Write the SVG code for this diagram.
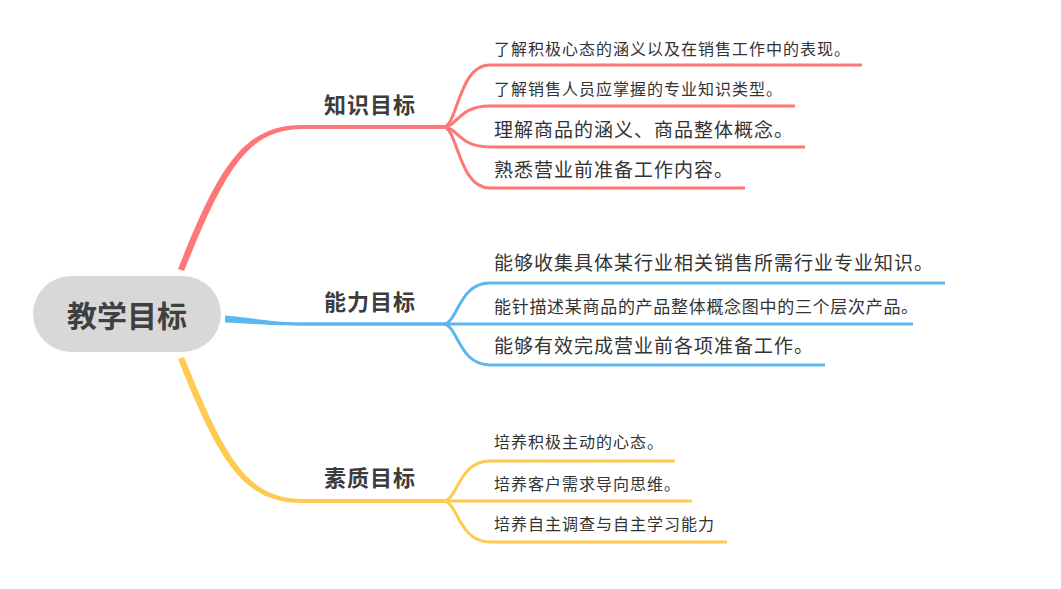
<svg xmlns="http://www.w3.org/2000/svg" width="1061" height="589" viewBox="0 0 1061 589">
<style>
text{font-family:"Noto Sans CJK SC","Microsoft YaHei",sans-serif;fill:#333}
.root{font-size:30px;font-weight:bold;fill:#404040}
.cat{font-size:22px;font-weight:bold;fill:#3c3c3c;letter-spacing:1px}
.s{font-size:16px;letter-spacing:1px}
.l{font-size:19px;letter-spacing:1px}
.lk{fill:none;stroke-width:3}
.red{stroke:#ff7676}.blue{stroke:#5cb6f0}.yel{stroke:#ffc952}
</style>
<rect width="1061" height="589" fill="#fff"/>
<g id="connectors">
  <path d="M178,269 C219,166 243,125 303,125 L443,125 L443,129 L303,129 C247,129 225,170 184,271 Z" fill="#ff7676"/>
  <path d="M225,315.5 C255,318 270,322 300,322.3 L443,322.3 L443,325.7 L300,325.7 C268,325.7 252,323.5 225,322.5 Z" fill="#5cb6f0"/>
  <path d="M178,359 C219,462 243,503 303,503 L443,503 L443,499 L303,499 C247,499 225,458 184,357 Z" fill="#ffc952"/>
  <path class="lk red" d="M443,127 C458,127 458,65 490,65 L862,65"/>
  <path class="lk red" d="M443,127 C458,127 458,106 490,106 L795,106"/>
  <path class="lk red" d="M443,127 C458,127 458,147 490,147 L805,147"/>
  <path class="lk red" d="M443,127 C458,127 458,188 490,188 L745,188"/>
  <path class="lk blue" d="M443,324 C458,324 458,283 490,283 L945,283"/>
  <path class="lk blue" d="M443,324 L913,324"/>
  <path class="lk blue" d="M443,324 C458,324 458,365 490,365 L825,365"/>
  <path class="lk yel" d="M443,501 C458,501 458,461 490,461 L675,461"/>
  <path class="lk yel" d="M443,501 L692,501"/>
  <path class="lk yel" d="M443,501 C458,501 458,542 490,542 L727,542"/>
</g>
<g id="root">
  <rect x="33" y="276" width="188" height="76" rx="38" fill="#d8d8d8"/>
  <text class="root" x="127" y="327" text-anchor="middle">教学目标</text>
</g>
<g id="cat-knowledge"><text class="cat" x="324" y="113">知识目标</text></g>
<g id="cat-ability"><text class="cat" x="324" y="310">能力目标</text></g>
<g id="cat-quality"><text class="cat" x="324" y="486">素质目标</text></g>
<g id="k1"><text class="s" x="494" y="55">了解积极心态的涵义以及在销售工作中的表现。</text></g>
<g id="k2"><text class="s" x="494" y="95">了解销售人员应掌握的专业知识类型。</text></g>
<g id="k3"><text class="l" x="494" y="137">理解商品的涵义、商品整体概念。</text></g>
<g id="k4"><text class="l" x="494" y="177">熟悉营业前准备工作内容。</text></g>
<g id="a1"><text class="l" x="494" y="270">能够收集具体某行业相关销售所需行业专业知识。</text></g>
<g id="a2"><text class="s" x="494" y="313" style="font-size:17px;letter-spacing:0.7px">能针描述某商品的产品整体概念图中的三个层次产品。</text></g>
<g id="a3"><text class="l" x="494" y="353">能够有效完成营业前各项准备工作。</text></g>
<g id="q1"><text class="s" x="494" y="448">培养积极主动的心态。</text></g>
<g id="q2"><text class="s" x="494" y="490">培养客户需求导向思维。</text></g>
<g id="q3"><text class="s" x="494" y="530">培养自主调查与自主学习能力</text></g>
</svg>
